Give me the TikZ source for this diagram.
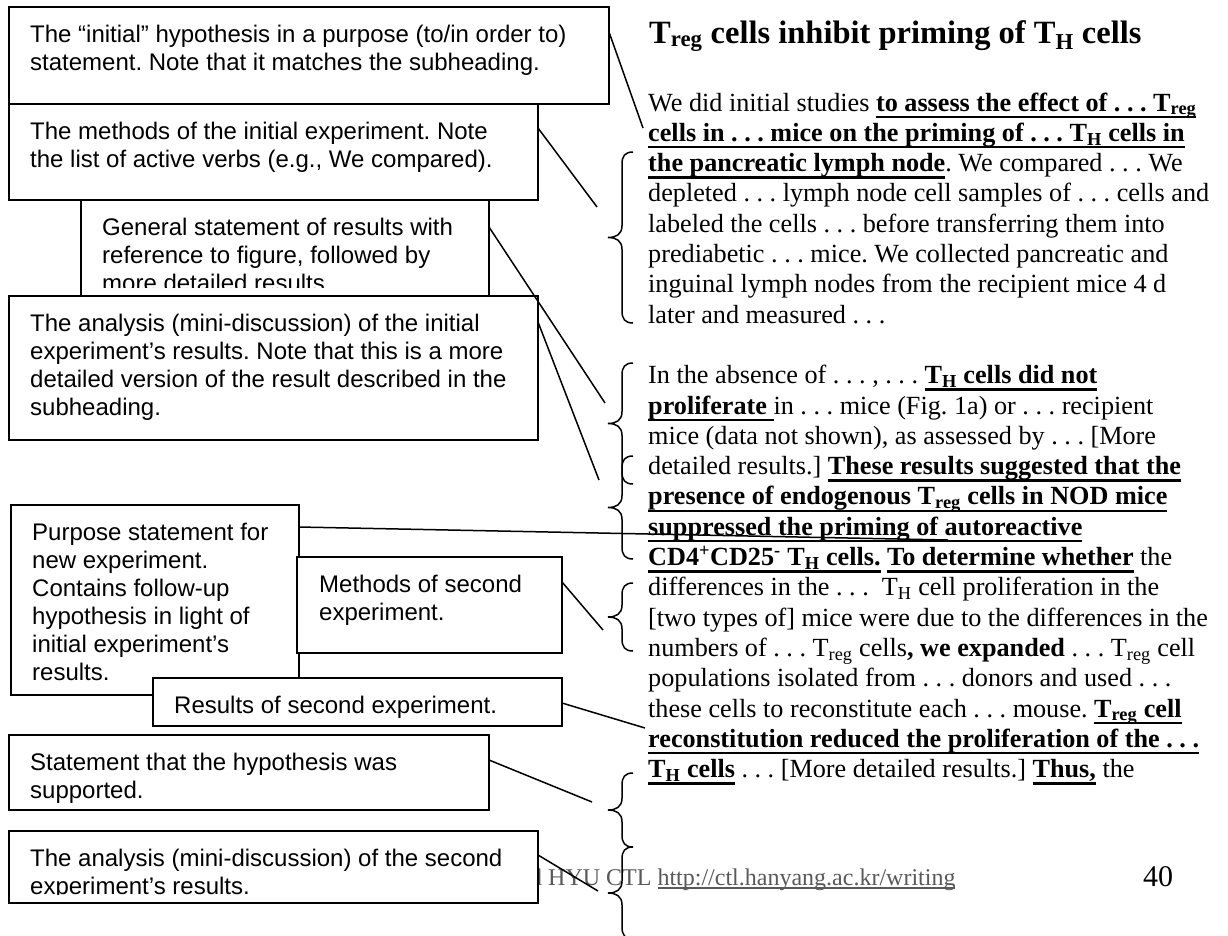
\documentclass[tikz,border=0pt]{standalone}
\usepackage{fontspec}
\setmainfont{Liberation Serif}
\newfontfamily\arialf{Liberation Sans}
\usetikzlibrary{calc}
\definecolor{footgray}{gray}{0.35}
\newsavebox\ulbox
\newcommand\ulb[1]{\leavevmode\sbox\ulbox{\bfseries #1}\rlap{\rule[-7pt]{\wd\ulbox}{2.4pt}}\usebox\ulbox}
\newcommand\lnk[1]{\leavevmode\sbox\ulbox{#1}\rlap{\rule[-3.5pt]{\wd\ulbox}{1.2pt}}\usebox\ulbox}
\newcommand\Ts[1]{T\textsubscript{#1}}
\newcommand\mybrace[3]{%
 \draw[bracestyle] ({#1+11},#2) .. controls ({#1+3},#2) and (#1,{#2+4}) .. (#1,{#2+12})
  -- (#1,{(#2+#3)/2-12}) .. controls (#1,{(#2+#3)/2-3}) and ({#1-6},{(#2+#3)/2}) .. ({#1-14},{(#2+#3)/2})
  .. controls ({#1-6},{(#2+#3)/2}) and (#1,{(#2+#3)/2+3}) .. (#1,{(#2+#3)/2+12})
  -- (#1,{#3-12}) .. controls (#1,{#3-4}) and ({#1+3},#3) .. ({#1+11},#3);}
\tikzset{
  box/.style={draw=black, line width=2pt, fill=white, anchor=north west, inner sep=0, outer sep=0},
  boxtext/.style={anchor=base west, inner sep=0, font=\arialf\fontsize{24}{28}\selectfont\frenchspacing},
  bodytext/.style={anchor=base west, inner sep=0, font=\fontsize{26.2}{30.3}\selectfont\frenchspacing},
  conn/.style={draw=black, line width=1.5pt},
  bracestyle/.style={draw=black, line width=1.5pt}
}
\begin{document}
\begin{tikzpicture}[x=1pt,y=-1pt]
\useasboundingbox (0,0) rectangle (1228,935);
\fill[white] (0,0) rectangle (1228,935);

% right column
\node[anchor=base west, inner sep=0, font=\bfseries\fontsize{32.5}{36}\selectfont] (title) at (649,43)
  {T\textsubscript{reg} cells inhibit priming of T\textsubscript{H} cells};
\node[bodytext] (body) at (648,111) {\parbox[t]{640pt}{\raggedright
We did initial studies \ulb{to assess the effect of . . . \Ts{reg}}\\
\ulb{cells in . . . mice on the priming of . . . \Ts{H} cells in}\\
\ulb{the pancreatic lymph node}. We compared . . . We\\
depleted . . . lymph node cell samples of . . . cells and\\
labeled the cells . . . before transferring them into\\
prediabetic . . . mice. We collected pancreatic and\\
inguinal lymph nodes from the recipient mice 4 d\\
later and measured . . .\\[30.3pt]
In the absence of . . . , . . . \ulb{\Ts{H} cells did not}\\
\ulb{proliferate }in . . . mice (Fig. 1a) or . . . recipient\\
mice (data not shown), as assessed by . . . [More\\
detailed results.] \ulb{These results suggested that the}\\
\ulb{presence of endogenous \Ts{reg} cells in NOD mice}\\
\ulb{suppressed the priming of autoreactive}\\
\ulb{CD4\textsuperscript{+}CD25\textsuperscript{-} \Ts{H} cells.} \ulb{To determine whether} the\\
differences in the . . .\ \ \Ts{H} cell proliferation in the\\
\relax [two types of] mice were due to the differences in the\\
numbers of . . . \Ts{reg} cells\textbf{, we expanded} . . . \Ts{reg} cell\\
populations isolated from . . . donors and used . . .\\
these cells to reconstitute each . . . mouse. \ulb{\Ts{reg} cell}\\
\ulb{reconstitution reduced the proliferation of the . . .}\\
\ulb{\Ts{H} cells} . . . [More detailed results.] \ulb{Thus,} the}};

% footer
\node[anchor=base west, inner sep=0, font=\fontsize{24}{28}\selectfont, text=footgray] (foot) at (530,885)
  {d HYU CTL \lnk{http://ctl.hanyang.ac.kr/writing}};
\node[anchor=base west, inner sep=0, font=\fontsize{30}{34}\selectfont] (pnum) at (1143,886) {40};

% boxes
\node[box, minimum width=600pt, minimum height=97pt] (box1) at (9,7) {};
\node[boxtext] (t1) at ($(box1.north west)+(21,35.5)$) {\parbox[t]{620pt}{\raggedright
The “initial” hypothesis in a purpose (to/in order to)\\
statement. Note that it matches the subheading.}};

\node[box, minimum width=529pt, minimum height=96pt] (box2) at (9,104) {};
\node[boxtext] (t2) at ($(box2.north west)+(21,35.5)$) {\parbox[t]{620pt}{\raggedright
The methods of the initial experiment. Note\\
the list of active verbs (e.g., We compared).}};

\node[box, minimum width=408pt, minimum height=96pt] (box3) at (81,200) {};
\begin{scope}
\clip (81,200) rectangle (489,287);
\node[boxtext] (t3) at ($(box3.north west)+(21,35.5)$) {\parbox[t]{620pt}{\raggedright
General statement of results with\\
reference to figure, followed by\\
more detailed results}};
\end{scope}

\node[box, minimum width=529pt, minimum height=144pt] (box4) at (9,296) {};
\node[boxtext] (t4) at ($(box4.north west)+(21,35.5)$) {\parbox[t]{620pt}{\raggedright
The analysis (mini-discussion) of the initial\\
experiment’s results. Note that this is a more\\
detailed version of the result described in the\\
subheading.}};

\node[box, minimum width=288pt, minimum height=190pt] (box5) at (11,505) {};
\node[boxtext] (t5) at ($(box5.north west)+(21,35.5)$) {\parbox[t]{620pt}{\raggedright
Purpose statement for\\
new experiment.\\
Contains follow-up\\
hypothesis in light of\\
initial experiment’s\\
results.}};

\node[box, minimum width=265pt, minimum height=96pt] (box6) at (297,557) {};
\node[boxtext] (t6) at ($(box6.north west)+(22,35.5)$) {\parbox[t]{620pt}{\raggedright
Methods of second\\
experiment.}};

\node[box, minimum width=409pt, minimum height=48pt] (box7) at (153,678) {};
\node[boxtext] (t7) at ($(box7.north west)+(21,35.5)$) {Results of second experiment.};

\node[box, minimum width=480pt, minimum height=75pt] (box8) at (9,735) {};
\node[boxtext] (t8) at ($(box8.north west)+(21,35.5)$) {\parbox[t]{620pt}{\raggedright
Statement that the hypothesis was\\
supported.}};

\node[box, minimum width=529pt, minimum height=72pt] (box9) at (9,831) {};
\begin{scope}
\clip (9,831) rectangle (538,894);
\node[boxtext] (t9) at ($(box9.north west)+(21,35.5)$) {\parbox[t]{620pt}{\raggedright
The analysis (mini-discussion) of the second\\
experiment’s results.}};
\end{scope}

% connector ends
\coordinate (e1) at (643,128);
\coordinate (e2) at (597,207);
\coordinate (e3) at (605,403);
\coordinate (e4) at (599,480);
\coordinate (e5) at (948,540);
\coordinate (e6) at (603,630);
\coordinate (e7) at (645,728);
\coordinate (e8) at (592,802);
\coordinate (e9) at (598,891);

\draw[conn] ($(box1.north east)+(0,25)$) -- (e1);
\draw[conn] ($(box2.north east)+(0,24)$) -- (e2);
\draw[conn] ($(box3.north east)+(0,27)$) -- (e3);
\draw[conn] ($(box4.north east)+(0,26)$) -- (e4);
\draw[conn] ($(box5.north east)+(0,22)$) -- (e5);
\draw[conn] ($(box6.north east)+(0,25)$) -- (e6);
\draw[conn] ($(box7.north east)+(0,25)$) -- (e7);
\draw[conn] ($(box8.north east)+(0,25)$) -- (e8);
\draw[conn] ($(box9.north east)+(0,24)$) -- (e9);

% braces
\mybrace{622}{152}{323}
\mybrace{622}{363}{484}
\mybrace{622}{456}{559}
\mybrace{622}{583}{651}
\mybrace{622}{773}{847}
\mybrace{622}{847}{939}
\end{tikzpicture}
\end{document}
